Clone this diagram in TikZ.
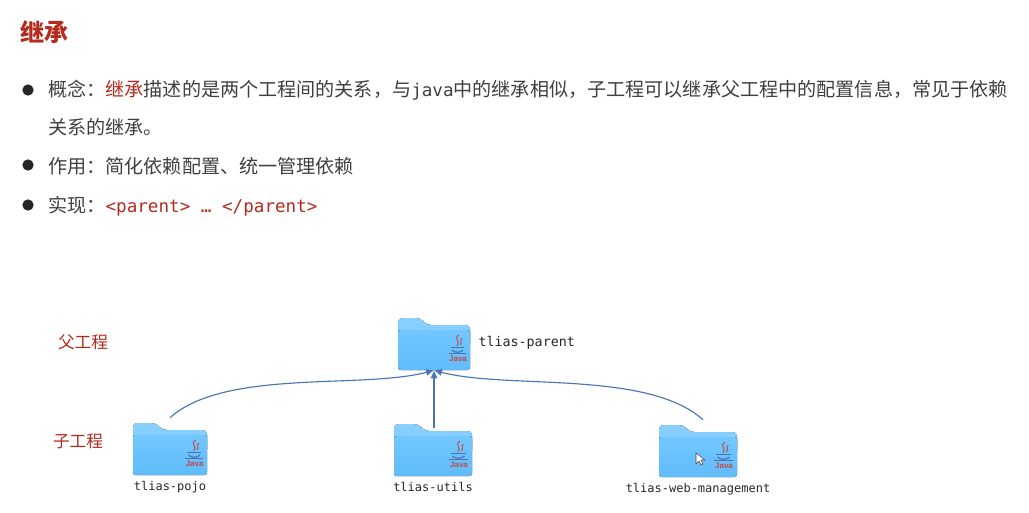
\documentclass[tikz,border=0pt]{standalone}
\usepackage{fontspec}
\setmainfont{Noto Sans CJK SC}
\setmonofont{DejaVu Sans Mono}
\newfontfamily\logofont{Liberation Sans}
\newcommand{\codefont}{\ttfamily\fontsize{13.2}{13.2}\selectfont}
\usetikzlibrary{positioning,arrows.meta,calc}

\definecolor{hired}{HTML}{B42A1E}
\definecolor{bodygray}{HTML}{3F3F3F}
\definecolor{linkblue}{HTML}{4A74B4}
\definecolor{backlight}{HTML}{8AD0FF}
\definecolor{backdark}{HTML}{7CC9FF}
\definecolor{frontlight}{HTML}{72C7FF}
\definecolor{frontdark}{HTML}{60BCFA}

\begin{document}
\begin{tikzpicture}[
        x=0.75pt,
        y=-0.75pt,
        >={Latex[length=6pt,width=5.5pt]},
        heading/.style={
            anchor=west,
            inner sep=0pt,
            font=\fontsize{18}{18}\selectfont\bfseries,
            text=hired
        },
        bullet/.style={
            circle,
            fill=black!85,
            inner sep=0pt,
            minimum size=8.5pt
        },
        textline/.style={
            anchor=west,
            inner sep=0pt,
            font=\fontsize{14.33}{14.33}\selectfont,
            text=bodygray
        },
        rolelabel/.style={
            inner sep=0pt,
            font=\fontsize{12.5}{12.5}\selectfont,
            text=hired
        },
        filelabel/.style={
            inner sep=0pt,
            font=\ttfamily\fontsize{#1}{#1}\selectfont,
            text=black!85
        },
        javamark/.style={
            inner sep=0pt,
            font=\logofont\fontsize{6}{6}\selectfont\bfseries,
            text=hired!85
        },
        folder/.pic={
            \begin{scope}[xscale=#1/72]
                % Rueckseite mit Reiter
                \fill[top color=backlight, bottom color=backdark, rounded corners=3pt]
                    (-36,-26) -- (-14,-26) -- (-7,-19) -- (36,-19) -- (36,4) -- (-36,4) -- cycle;
                % Vorderseite
                \fill[top color=frontlight, bottom color=frontdark, rounded corners=2pt]
                    (-36,-14) -- (36,-14) -- (36,26) -- (-36,26) -- cycle;
                % Java-Zeichen
                \draw[hired!85, line width=0.7pt] (25,-9) .. controls (19,-5) and (27,-3) .. (23,2);
                \draw[hired!85, line width=0.7pt] (28,-6) .. controls (25,-3) and (29,-2) .. (26,1);
                \draw[linkblue, line width=0.7pt] (17,3) -- (30,3);
                \draw[linkblue, line width=0.9pt] (18,6) .. controls (20,9) and (27,9) .. (29,6);
                \draw[linkblue, line width=0.5pt] (15,9) -- (32,9);
                \node[javamark] (-java) at (24,15) {Java};
            \end{scope}
            \node[inner sep=0pt, minimum width=#1*0.75pt, minimum height=39pt] (-box) at (0,0) {};
        },
        inherit/.style={
            ->,
            linkblue,
            line width=0.85pt
        },
        node distance=6pt
    ]

    \useasboundingbox (0,0) rectangle (1029,512);

    % Text oben
    \node[heading] (title) at (20,32) {继承};

    \node[bullet] (dotone) at (28,90) {};
    \node[textline] (lineone) at (48,90) {概念：\textcolor{hired}{继承}描述的是两个工程间的关系，与{\codefont java}中的继承相似，子工程可以继承父工程中的配置信息，常见于依赖};
    \node[textline] (linetwo) at (48,127) {关系的继承。};

    \node[bullet] (dottwo) at (28,165) {};
    \node[textline] (linethree) at (48,166) {作用：简化依赖配置、统一管理依赖};

    \node[bullet] (dotthree) at (28,205) {};
    \node[textline] (linefour) at (48,206) {实现：\textcolor{hired}{\codefont <parent> … </parent>}};

    % Ordner
    \pic (parent) at (434,344) {folder=72};
    \pic (pojo) at (170,449) {folder=74};
    \pic (utils) at (433,450) {folder=78};
    \pic (web) at (698,451) {folder=78};

    % Beschriftung
    \node[rolelabel] (father) at (83,342) {父工程};
    \node[rolelabel] (child) at (78,441) {子工程};

    \node[filelabel=10, right=6pt of parent-box, yshift=0.75pt] (parentname) {tlias-parent};
    \node[filelabel=9, below=4pt of pojo-box] (pojoname) {tlias-pojo};
    \node[filelabel=9, below=4pt of utils-box] (utilsname) {tlias-utils};
    \node[filelabel=9, below=4pt of web-box] (webname) {tlias-web-management};

    % Mauszeiger
    \draw[fill=white, draw=black!70, line width=0.4pt]
        (696,453) -- (696,464) -- (699,461) -- (701,465) -- (703,464) -- (701,460) -- (705,460) -- cycle;

    % Pfeile
    \draw[inherit] ([yshift=3.75pt]pojo-box.north) to[out=42, in=195, looseness=0.7] (parent-box.south);
    \draw[inherit] ([xshift=0.75pt,yshift=-3pt]utils-box.north) -- (parent-box.south);
    \draw[inherit] ([xshift=3.75pt,yshift=3.75pt]web-box.north) to[out=138, in=-15, looseness=0.7] (parent-box.south);

\end{tikzpicture}
\end{document}
